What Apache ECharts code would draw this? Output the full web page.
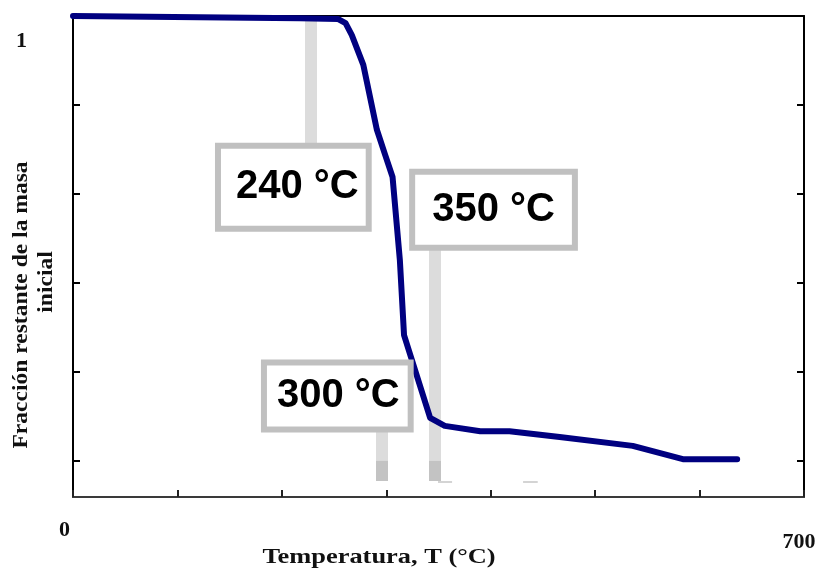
<!DOCTYPE html>
<html>
<head>
<meta charset="utf-8">
<script src="https://cdn.jsdelivr.net/npm/echarts@6/dist/echarts.min.js"></script>
<style>
html,body{margin:0;padding:0;background:#fff;}
#chart{width:823px;height:571px;}
</style>
</head>
<body>
<div id="chart"></div>
<script>
// ---- data ----
const temperatures = [0, 217, 254, 261, 267, 278, 291, 299, 306, 313, 317, 342, 356, 390, 418, 466, 536, 584, 636];
const massFraction = [1.0, 0.995, 0.993, 0.984, 0.957, 0.890, 0.744, 0.687, 0.638, 0.451, 0.282, 0.096, 0.078, 0.066, 0.066, 0.053, 0.033, 0.003, 0.003];
const xTickLabels = [0, 700];
const yTickLabels = [1];
const yTickValues = [0, 0.2, 0.4, 0.6, 0.8, 1];
const annotationTexts = ['240 °C', '350 °C', '300 °C'];
const annotationBoxT = [211, 402.7, 253.1];
const annotationBoxV = [0.615, 0.564, 0.145];
const annotationLineT = [228, 346, 296];
const annotationLineTopV = [0.995, 0.556, 0.145];
const annotationLineBottomV = [0.62, 0.0, 0.0];
const annotationFootV = [-0.046, -0.046];
const faintDashT = [[349.5, 363], [431, 445]];
const faintDashV = -0.048;
const xName = 'Temperatura, T (°C)';
const yNameLine1 = 'Fracción restante de la masa';
const yNameLine2 = 'inicial';

// ---- build ----
const curve = temperatures.map((t, i) => [t, massFraction[i]]);
const boxPads = [[23, 7, 14, 15], [20, 17, 10, 17], [10, 8, 11, 10]];
const boxData = annotationTexts.map((txt, i) => ({
  value: [annotationBoxT[i], annotationBoxV[i]],
  name: txt,
  label: { padding: boxPads[i] }
}));
const lightBars = annotationLineT.map((t, i) => ({
  coords: [[t, annotationLineTopV[i]], [t, annotationLineBottomV[i]]]
}));
const darkBars = annotationFootV.map((v, i) => ({
  coords: [[annotationLineT[i + 1], 0.0], [annotationLineT[i + 1], v]]
}));
const dashes = faintDashT.map(p => ({ coords: [[p[0], faintDashV], [p[1], faintDashV]] }));

const serif = 'Liberation Serif';
const chart = echarts.init(document.getElementById('chart'), null, { renderer: 'canvas' });
const axisCommon = { min: 0, max: 700, interval: 100 };
const yCommon = { min: -0.082, max: 1 };
chart.setOption({
  animation: false,
  backgroundColor: '#ffffff',
  grid: { left: 73, right: 19, top: 16, bottom: 74, containLabel: false, outerBoundsMode: 'none' },
  xAxis: [
    Object.assign({
      type: 'value', position: 'bottom',
      axisLine: { show: true, onZero: false, lineStyle: { color: '#3a3a3a', width: 2 } },
      axisTick: { show: true, inside: true, length: 7, lineStyle: { color: '#222', width: 2 } },
      splitLine: { show: false },
      axisLabel: {
        show: true, customValues: xTickLabels, margin: 22,
        fontFamily: serif, fontWeight: 'bold', fontSize: 22, color: '#111',
        formatter: v => (v === 0 ? '{a|' + v + '}' : '{b|' + v + '}'),
        rich: {
          a: { fontFamily: serif, fontWeight: 'bold', fontSize: 22, color: '#111', padding: [0, 17, 0, 0] },
          b: { fontFamily: serif, fontWeight: 'bold', fontSize: 22, color: '#111', padding: [12, 10, 0, 0] }
        }
      }
    }, axisCommon),
    Object.assign({
      type: 'value', position: 'top',
      axisLine: { show: true, onZero: false, lineStyle: { color: '#000', width: 2 } },
      axisTick: { show: false }, axisLabel: { show: false }, splitLine: { show: false }
    }, axisCommon)
  ],
  yAxis: [
    Object.assign({
      type: 'value', position: 'left',
      axisLine: { show: true, onZero: false, lineStyle: { color: '#000', width: 2 } },
      axisTick: { show: true, inside: true, length: 7, customValues: yTickValues, lineStyle: { color: '#000', width: 2 } },
      splitLine: { show: false },
      axisLabel: {
        show: true, customValues: yTickLabels, margin: 46,
        formatter: v => '{c|' + v + '}',
        rich: { c: { fontFamily: serif, fontWeight: 'bold', fontSize: 22, color: '#111', padding: [50, 0, 0, 0] } }
      }
    }, yCommon),
    Object.assign({
      type: 'value', position: 'right',
      axisLine: { show: true, onZero: false, lineStyle: { color: '#000', width: 2 } },
      axisTick: { show: true, inside: true, length: 7, customValues: yTickValues, lineStyle: { color: '#000', width: 2 } },
      splitLine: { show: false }, axisLabel: { show: false }
    }, yCommon)
  ],
  series: [
    {
      type: 'lines', coordinateSystem: 'cartesian2d', z: 1,
      lineStyle: { color: '#dcdcdc', width: 12, opacity: 1 },
      data: lightBars
    },
    {
      type: 'lines', coordinateSystem: 'cartesian2d', z: 1,
      lineStyle: { color: '#c3c3c3', width: 12, opacity: 1 },
      data: darkBars
    },
    {
      type: 'lines', coordinateSystem: 'cartesian2d', z: 1,
      lineStyle: { color: '#d4d4d4', width: 2, opacity: 1 },
      data: dashes
    },
    {
      type: 'line', data: curve, symbol: 'none', z: 3,
      lineStyle: { color: '#000080', width: 6, join: 'round', cap: 'round' }
    },
    {
      type: 'scatter', data: boxData, symbolSize: 1, z: 4,
      itemStyle: { color: 'rgba(255,255,255,0)', opacity: 1 },
      emphasis: { disabled: true },
      label: {
        show: true, position: 'inside',
        formatter: p => p.name,
        fontFamily: 'Liberation Sans', fontWeight: 'bold', fontSize: 40, lineHeight: 40, color: '#000',
        textBorderWidth: 0, textBorderColor: 'transparent',
        backgroundColor: '#ffffff', borderColor: '#c0c0c0', borderWidth: 6
      }
    }
  ],
  graphic: [
    {
      type: 'text', x: 21, y: 305, rotation: Math.PI / 2, scaleX: 1.07,
      style: { text: yNameLine1, font: 'bold 22px "Liberation Serif"', fill: '#111', align: 'center', verticalAlign: 'middle' }
    },
    {
      type: 'text', x: 46, y: 282, rotation: Math.PI / 2, scaleX: 1.07,
      style: { text: yNameLine2, font: 'bold 22px "Liberation Serif"', fill: '#111', align: 'center', verticalAlign: 'middle' }
    },
    {
      type: 'text', x: 379, y: 557, scaleX: 1.2,
      style: { text: xName, font: 'bold 22px "Liberation Serif"', fill: '#111', align: 'center', verticalAlign: 'middle' }
    }
  ]
});
</script>
</body>
</html>
